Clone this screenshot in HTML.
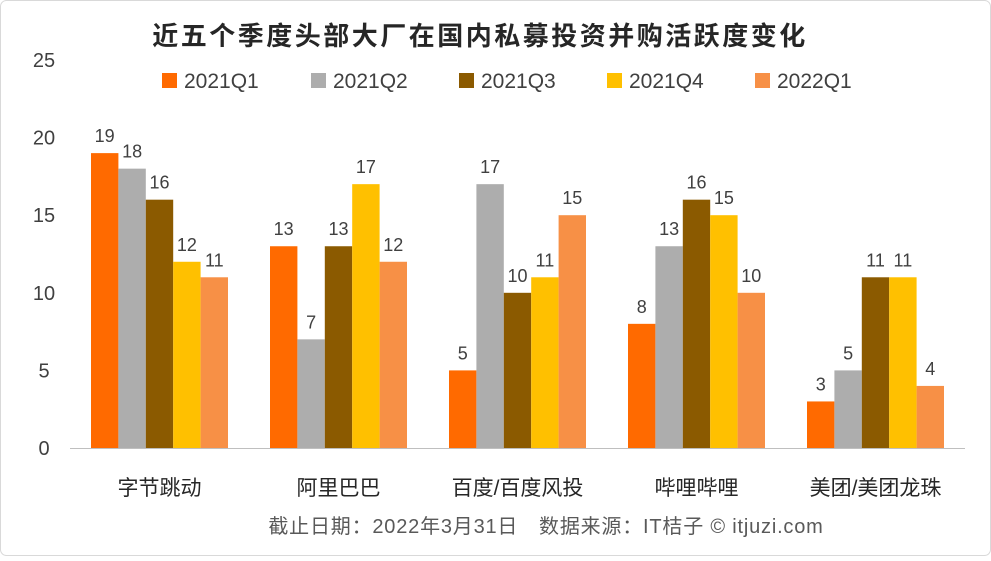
<!DOCTYPE html>
<html><head><meta charset="utf-8"><style>
body{margin:0;background:#fff;}
svg text{font-family:"Liberation Sans","Noto Sans CJK SC",sans-serif;}
</style></head><body>
<svg width="991" height="556" viewBox="0 0 991 556" xmlns="http://www.w3.org/2000/svg">
<rect x="0.5" y="0.5" width="990" height="555" rx="6" fill="#fff" stroke="#d9d9d9"/>
<text x="480" y="45" text-anchor="middle" font-size="26" letter-spacing="2.5" font-weight="bold" fill="#262626">近五个季度头部大厂在国内私募投资并购活跃度变化</text>
<g id="yaxis"></g>
<g id="bars"></g>
<g id="legend"></g>
<line x1="70" y1="448.5" x2="965" y2="448.5" stroke="#bfbfbf" stroke-width="1"/>
<text x="546" y="533" text-anchor="middle" font-size="20" letter-spacing="0.8" fill="#595959">截止日期：2022年3月31日　数据来源：IT桔子 © itjuzi.com</text>
</svg>
<script>
const categories=["字节跳动","阿里巴巴","百度/百度风投","哔哩哔哩","美团/美团龙珠"];
const seriesNames=["2021Q1","2021Q2","2021Q3","2021Q4","2022Q1"];
const s2021Q1=[19,13,5,8,3];
const s2021Q2=[18,7,17,13,5];
const s2021Q3=[16,13,10,16,11];
const s2021Q4=[12,17,11,15,11];
const s2022Q1=[11,12,15,10,4];
const yTicks=[0,5,10,15,20,25];
const series=[s2021Q1,s2021Q2,s2021Q3,s2021Q4,s2022Q1];
const colors=["#FF6A00","#ADADAD","#8B5A00","#FFC000","#F79046"];
const NS="http://www.w3.org/2000/svg";
const y0=448,yTop=60,yMax=25,plotL=70,plotR=965;
function yS(v){return y0-(v/yMax)*(y0-yTop);}
const gw=(plotR-plotL)/categories.length;
function xC(i){return plotL+gw*(i+0.5);}
const bw=27.4;
function mk(t,a,p,txt){const e=document.createElementNS(NS,t);for(const k in a)e.setAttribute(k,a[k]);if(txt!==undefined)e.textContent=txt;p.appendChild(e);return e;}
const ya=document.getElementById('yaxis');
yTicks.forEach(v=>{const t=mk('text',{x:44,y:yS(v)+7,'text-anchor':'middle','font-size':20,fill:'#404040'},ya,String(v));

});
const bg=document.getElementById('bars');
categories.forEach((c,i)=>{
 const t=mk('text',{x:xC(i),y:495,'text-anchor':'middle','font-size':21,fill:'#262626'},bg,c);
 
 
 series.forEach((s,j)=>{
  const x=xC(i)+(j-2.5)*bw;
  const r=mk('rect',{x:x,y:yS(s[i]),width:bw,height:y0-yS(s[i]),fill:colors[j]},bg);
  
  
  const l=mk('text',{x:x+bw/2,y:yS(s[i])-11,'text-anchor':'middle','font-size':18,fill:'#404040'},bg,String(s[i]));
  
  
 });
});
const lg=document.getElementById('legend');
const lx=[162,311,459,607,755];
seriesNames.forEach((n,j)=>{
 const r=mk('rect',{x:lx[j],y:73,width:15,height:15,fill:colors[j]},lg);
 
 
 const t=mk('text',{x:lx[j]+22,y:88,'font-size':21,fill:'#404040'},lg,n);
 
 
});
</script>
</body></html>
